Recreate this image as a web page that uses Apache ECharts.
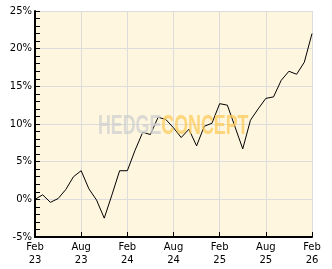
<!DOCTYPE html>
<html>
<head>
<meta charset="utf-8">
<script src="https://cdn.jsdelivr.net/npm/echarts@6/dist/echarts.min.js"></script>
<style>
html,body{margin:0;padding:0;background:#fff;}
#c{width:332px;height:269px;}
</style>
</head>
<body>
<div id="c"></div>
<script>
const months = ['Feb 23','Mar 23','Apr 23','May 23','Jun 23','Jul 23','Aug 23','Sep 23','Oct 23','Nov 23','Dec 23','Jan 24',
'Feb 24','Mar 24','Apr 24','May 24','Jun 24','Jul 24','Aug 24','Sep 24','Oct 24','Nov 24','Dec 24','Jan 25',
'Feb 25','Mar 25','Apr 25','May 25','Jun 25','Jul 25','Aug 25','Sep 25','Oct 25','Nov 25','Dec 25','Jan 26','Feb 26'];
const performance = [0.0,0.6,-0.4,0.1,1.3,3.0,3.8,1.4,-0.1,-2.5,0.6,3.8,
3.8,6.5,8.9,8.6,10.9,10.6,9.5,8.2,9.3,7.1,9.7,10.1,
12.7,12.5,9.6,6.7,10.5,12.0,13.4,13.6,15.8,17.0,16.6,18.2,22.0];
const yMin = -5, yMax = 25, yStep = 5, yMinorStep = 1;

const chart = echarts.init(document.getElementById('c'), null, {renderer:'canvas'});
const font = 'DejaVu Sans';
chart.setOption({
  animation:false,
  backgroundColor:'#ffffff',
  grid:{left:35,right:20,top:11,bottom:32,show:true,backgroundColor:'#fef6de',borderWidth:0},
  xAxis:{
    type:'category',data:months,boundaryGap:false,
    axisLine:{onZero:false,lineStyle:{color:'#000',width:2}},
    axisTick:{inside:true,length:5,interval:5,lineStyle:{color:'#000'}},
    axisLabel:{interval:5,margin:4,color:'#000',fontFamily:font,fontSize:10,lineHeight:13,
      formatter:v=>v.replace(' ','\n')},
    splitLine:{show:true,interval:5,lineStyle:{color:'#dcdcdc',width:1}}
  },
  yAxis:[{
    type:'value',min:yMin,max:yMax,interval:yStep,position:'left',
    axisLine:{show:true,onZero:false,lineStyle:{color:'#000',width:2}},
    axisTick:{show:false},
    axisLabel:{margin:3,color:'#000',fontFamily:font,fontSize:10,formatter:'{value}%'},
    splitLine:{show:true,lineStyle:{color:'#dcdcdc',width:1}}
  },{
    type:'value',min:yMin,max:yMax,interval:yMinorStep,position:'left',offset:0,
    axisLine:{show:false,onZero:false},
    axisTick:{show:true,inside:true,length:5,lineStyle:{color:'#000'}},
    axisLabel:{show:false},
    splitLine:{show:false}
  }],
  series:[{type:'line',data:performance,symbol:'none',lineStyle:{color:'#000',width:1},z:2}],
  graphic:[{
    type:'text',left:98,top:113,z:100,scaleX:0.66,
    style:{
      text:'{a|HEDGE}{b|CONCEPT}',
      rich:{
        a:{fill:'#cfcfcf',font:'bold 27px "Liberation Sans"'},
        b:{fill:'#fcc95a',font:'bold 27px "Liberation Sans"'}
      },
      opacity:0.75
    }
  }]
});
</script>
</body>
</html>
